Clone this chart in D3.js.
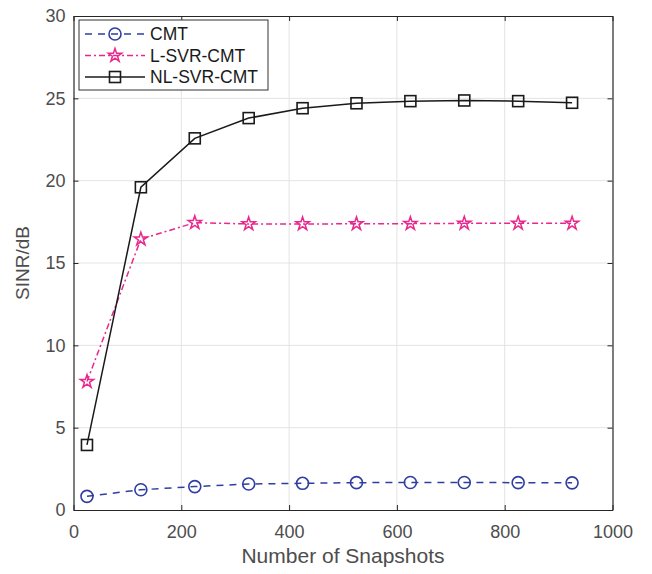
<!DOCTYPE html>
<html><head><meta charset="utf-8">
<script src="https://cdn.jsdelivr.net/npm/d3@7"></script>
<style>body{margin:0;background:#fff}svg{display:block}</style>
</head><body>
<script>
const snapshots = [25,125,225,325,425,525,625,725,825,925];
const cmt = [0.83,1.23,1.42,1.58,1.62,1.66,1.67,1.67,1.66,1.65];
const lsvr = [7.8,16.45,17.45,17.37,17.37,17.38,17.39,17.41,17.41,17.41];
const nlsvr = [3.95,19.6,22.57,23.8,24.4,24.7,24.83,24.87,24.83,24.73];
const xTicks = [0,200,400,600,800,1000];
const yTicks = [0,5,10,15,20,25,30];
const seriesNames = ["CMT","L-SVR-CMT","NL-SVR-CMT"];

const W=652,H=574;
const m={l:73.5,r:652-612.5,t:16,b:574-510};
const svg=d3.select("body").append("svg").attr("width",W).attr("height",H);
const x=d3.scaleLinear().domain([0,1000]).range([m.l,W-m.r]);
const y=d3.scaleLinear().domain([0,30]).range([H-m.b,m.t]);
const font="'Liberation Sans', Arial, Helvetica, sans-serif";
const axisCol="#262626", tickTxt="#4d4d4d";

// grid
const g=svg.append("g");
g.selectAll(".gx").data(xTicks.slice(1,-1)).join("line")
 .attr("x1",d=>x(d)).attr("x2",d=>x(d)).attr("y1",y(0)).attr("y2",y(30))
 .attr("stroke","#e3e3e3").attr("stroke-width",1);
g.selectAll(".gy").data(yTicks.slice(1,-1)).join("line")
 .attr("y1",d=>y(d)).attr("y2",d=>y(d)).attr("x1",x(0)).attr("x2",x(1000))
 .attr("stroke","#e3e3e3").attr("stroke-width",1);

// axes
const fmt=d3.format("d");
const ax=svg.append("g").attr("transform",`translate(0,${y(0)})`)
 .call(d3.axisBottom(x).tickValues(xTicks).tickSizeInner(-5).tickSizeOuter(0).tickPadding(15).tickFormat(fmt));
const ay=svg.append("g").attr("transform",`translate(${x(0)},0)`)
 .call(d3.axisLeft(y).tickValues(yTicks).tickSizeInner(-5).tickSizeOuter(0).tickPadding(8).tickFormat(fmt));
const axt=svg.append("g").attr("transform",`translate(0,${y(30)})`)
 .call(d3.axisTop(x).tickValues(xTicks).tickSizeInner(-5).tickSizeOuter(0).tickFormat(""));
const ayr=svg.append("g").attr("transform",`translate(${x(1000)},0)`)
 .call(d3.axisRight(y).tickValues(yTicks).tickSizeInner(-5).tickSizeOuter(0).tickFormat(""));
[ax,ay,axt,ayr].forEach(a=>{
 a.selectAll("path").attr("stroke",axisCol).attr("stroke-width",1.2);
 a.selectAll("line").attr("stroke",axisCol).attr("stroke-width",1);
 a.selectAll("text").attr("fill",tickTxt).attr("font-family",font).attr("font-size",18);
});

// labels
svg.append("text").attr("x",(x(0)+x(1000))/2).attr("y",563).attr("text-anchor","middle")
 .attr("font-family",font).attr("font-size",21).attr("fill",tickTxt).text("Number of Snapshots");
svg.append("text").attr("transform",`translate(29,${(y(0)+y(30))/2}) rotate(-90)`).attr("text-anchor","middle")
 .attr("font-family",font).attr("font-size",19).attr("fill",tickTxt).text("SINR/dB");

const colors=["#2f3ea0","#e8288c","#1a1a1a"];
const dashes=["7,6","6,3,2,3",null];
const datas=[cmt,lsvr,nlsvr];
const line=d3.line().x((d,i)=>x(snapshots[i])).y(d=>y(d));
const starPath=d3.symbol(d3.symbolStar,55)();
function marker(sel,k){
 if(k===0) sel.append("circle").attr("r",6).attr("fill","none").attr("stroke",colors[0]).attr("stroke-width",1.6);
 else if(k===1) sel.append("path").attr("d",starPath).attr("fill","none").attr("stroke",colors[1]).attr("stroke-width",1.5);
 else sel.append("rect").attr("x",-5.5).attr("y",-5.5).attr("width",11).attr("height",11).attr("fill","none").attr("stroke",colors[2]).attr("stroke-width",1.6);
}
datas.forEach((d,k)=>{
 svg.append("path").datum(d).attr("d",line).attr("fill","none").attr("stroke",colors[k])
  .attr("stroke-width",1.5).attr("stroke-dasharray",dashes[k]);
 svg.selectAll(null).data(d).join("g").attr("transform",(v,i)=>`translate(${x(snapshots[i])},${y(v)})`)
  .each(function(){marker(d3.select(this),k);});
});

// legend
const lg=svg.append("g");
lg.append("rect").attr("x",79).attr("y",20).attr("width",189).attr("height",70)
 .attr("fill","#fff").attr("stroke","#333").attr("stroke-width",1);
seriesNames.forEach((n,k)=>{
 const yy=34+k*21.5;
 lg.append("line").attr("x1",85).attr("x2",145).attr("y1",yy).attr("y2",yy)
  .attr("stroke",colors[k]).attr("stroke-width",1.5).attr("stroke-dasharray",dashes[k]);
 const mg=lg.append("g").attr("transform",`translate(115,${yy})`);
 marker(mg,k);
 lg.append("text").attr("x",150).attr("y",yy+6).attr("font-family",font).attr("font-size",17.5)
  .attr("fill","#1a1a1a").text(n);
});
</script>
</body></html>
